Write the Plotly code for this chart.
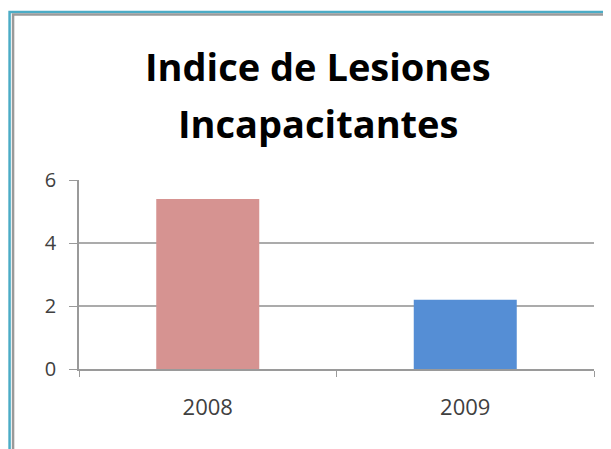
import plotly.graph_objects as go

categories = ["2008", "2009"]
values = [5.4, 2.2]
bar_colors = ["#d69391", "#558ed5"]
title_lines = ["Indice de Lesiones", "Incapacitantes"]
y_ticks = [0, 2, 4, 6]

# the page body has an 8px margin; lay out in reference pixel coords minus this offset
OFF = 8
W, H = 611, 449
L, R, T, B = 78.5 - OFF, 17 + OFF, 180 - OFF, 80 + OFF
PW, PH = W - L - R, H - T - B

def px(x):
    return (x - OFF - L) / PW

def py(y):
    return (H - B - (y - OFF)) / PH

fig = go.Figure()
fig.add_trace(go.Bar(
    x=categories, y=values, marker_color=bar_colors, width=0.4,
    marker_line_width=0, showlegend=False, hoverinfo="x+y",
))

shapes = [
    dict(type="path", xref="paper", yref="paper",
         path=f"M {px(9)} {py(470)} L {px(9)} {py(12)} L {px(640)} {py(12)}",
         line=dict(color="#4bacc6", width=2.5)),
    dict(type="path", xref="paper", yref="paper",
         path=f"M {px(12.5)} {py(470)} L {px(12.5)} {py(14.5)} L {px(640)} {py(14.5)}",
         line=dict(color="#9a9a9a", width=2.5)),
]

annotations = [
    dict(text=title_lines[0], xref="paper", yref="paper", x=px(318), y=py(66),
         showarrow=False, xanchor="center", yanchor="middle",
         font=dict(family="Open Sans", size=38, color="#000000", weight="bold")),
    dict(text=title_lines[1], xref="paper", yref="paper", x=px(318), y=py(123),
         showarrow=False, xanchor="center", yanchor="middle",
         font=dict(family="Open Sans", size=38, color="#000000", weight="bold")),
]

fig.update_layout(
    width=W, height=H,
    margin=dict(l=L, r=R, t=T, b=B, pad=0),
    paper_bgcolor="white", plot_bgcolor="white",
    shapes=shapes, annotations=annotations,
    bargap=0.6,
    font=dict(family="Open Sans", color="#404040"),
)
fig.update_xaxes(
    type="category", tickson="boundaries", ticks="outside", ticklen=6,
    tickcolor="#9a9a9a", showline=True, linecolor="#9a9a9a", linewidth=1.5,
    showgrid=False, tickfont=dict(size=22, color="#404040"),
    ticklabelstandoff=18,
)
fig.update_yaxes(
    range=[0, 6], tickvals=y_ticks, ticks="outside", ticklen=8,
    tickcolor="#9a9a9a", showline=True, linecolor="#9a9a9a", linewidth=1.5,
    showgrid=True, gridcolor="#ababab", gridwidth=1.5, zeroline=False,
    tickfont=dict(size=20, color="#404040"), ticklabelstandoff=9,
)

fig.write_html("out.html")
